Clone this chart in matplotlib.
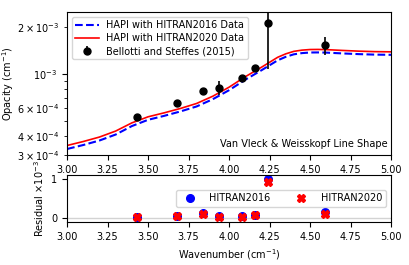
import matplotlib
matplotlib.use("Agg")
import matplotlib.pyplot as plt

# model curves
wn_model = [3.0, 3.1, 3.2, 3.3, 3.4, 3.5, 3.6, 3.7, 3.8, 3.9, 4.0, 4.1, 4.2,
            4.25, 4.3, 4.35, 4.4, 4.45, 4.5, 4.55, 4.6, 4.7, 4.8, 4.9, 5.0]
hitran2016 = [3.281e-4, 3.480e-4, 3.720e-4, 4.064e-4, 4.607e-4, 5.055e-4,
              5.362e-4, 5.723e-4, 6.162e-4, 6.863e-4, 7.838e-4, 9.152e-4,
              1.053e-3, 1.134e-3, 1.220e-3, 1.285e-3, 1.334e-3, 1.358e-3,
              1.370e-3, 1.372e-3, 1.368e-3, 1.352e-3, 1.338e-3, 1.328e-3, 1.324e-3]
hitran2020 = [3.455e-4, 3.665e-4, 3.916e-4, 4.279e-4, 4.830e-4, 5.285e-4,
              5.607e-4, 5.982e-4, 6.441e-4, 7.173e-4, 8.194e-4, 9.568e-4,
              1.101e-3, 1.185e-3, 1.276e-3, 1.343e-3, 1.394e-3, 1.419e-3,
              1.432e-3, 1.434e-3, 1.430e-3, 1.413e-3, 1.398e-3, 1.388e-3, 1.384e-3]

# Bellotti and Steffes (2015) measurements
wn_meas = [3.43, 3.68, 3.84, 3.94, 4.08, 4.16, 4.24, 4.59]
opacity_meas = [5.3e-4, 6.5e-4, 7.8e-4, 8.1e-4, 9.4e-4, 1.09e-3, 2.12e-3, 1.53e-3]
opacity_err = [1.0e-5, 1.0e-5, 1.0e-5, 8.5e-5, 1.5e-5, 1.5e-5, 1.04e-3, 2.0e-4]

# residuals (x 1e-3)
resid_2016 = [0.04, 0.06, 0.12, 0.06, 0.05, 0.09, 0.99, 0.16]
resid_2020 = [0.03, 0.05, 0.10, 0.04, 0.03, 0.07, 0.92, 0.11]

plt.rcParams["font.size"] = 7

fig = plt.figure(figsize=(4.09, 2.65), dpi=100)
ax = fig.add_axes([0.164, 0.415, 0.792, 0.540])
ax_res = fig.add_axes([0.164, 0.162, 0.792, 0.178])

ax.plot(wn_model, hitran2016, color="blue", linestyle="--", linewidth=1.5,
        label="HAPI with HITRAN2016 Data")
ax.plot(wn_model, hitran2020, color="red", linewidth=1.2,
        label="HAPI with HITRAN2020 Data")
ax.errorbar(wn_meas, opacity_meas, yerr=opacity_err, fmt="o", color="black",
            markersize=5, elinewidth=1.2, label="Bellotti and Steffes (2015)")
ax.set_yscale("log")
ax.set_xlim(3.0, 5.0)
ax.set_ylim(3e-4, 2.5e-3)
ax.set_ylabel("Opacity (cm$^{-1}$)", labelpad=1)
ax.legend(loc="upper left", fontsize=7, handlelength=2.4,
          borderpad=0.35, labelspacing=0.3)
ax.text(0.99, 0.04, "Van Vleck & Weisskopf Line Shape", transform=ax.transAxes,
        ha="right", va="bottom", fontsize=7)

ax_res.axhline(0, color="lightgrey", linewidth=1, zorder=0)
ax_res.plot(wn_meas, resid_2016, "o", color="blue", markersize=5.5, label="HITRAN2016")
ax_res.plot(wn_meas, resid_2020, "X", color="red", markersize=5.5, label="HITRAN2020")
ax_res.set_xlim(3.0, 5.0)
ax_res.set_ylim(-0.1, 1.1)
ax_res.set_yticks([0, 1])
ax_res.set_xlabel("Wavenumber (cm$^{-1}$)")
ax_res.set_ylabel("Residual $\\times 10^{-3}$")
ax_res.legend(loc="center right", ncol=2, fontsize=7, borderpad=0.4,
              columnspacing=2.2, handletextpad=1.0)

fig.savefig("out.png", dpi=100)
